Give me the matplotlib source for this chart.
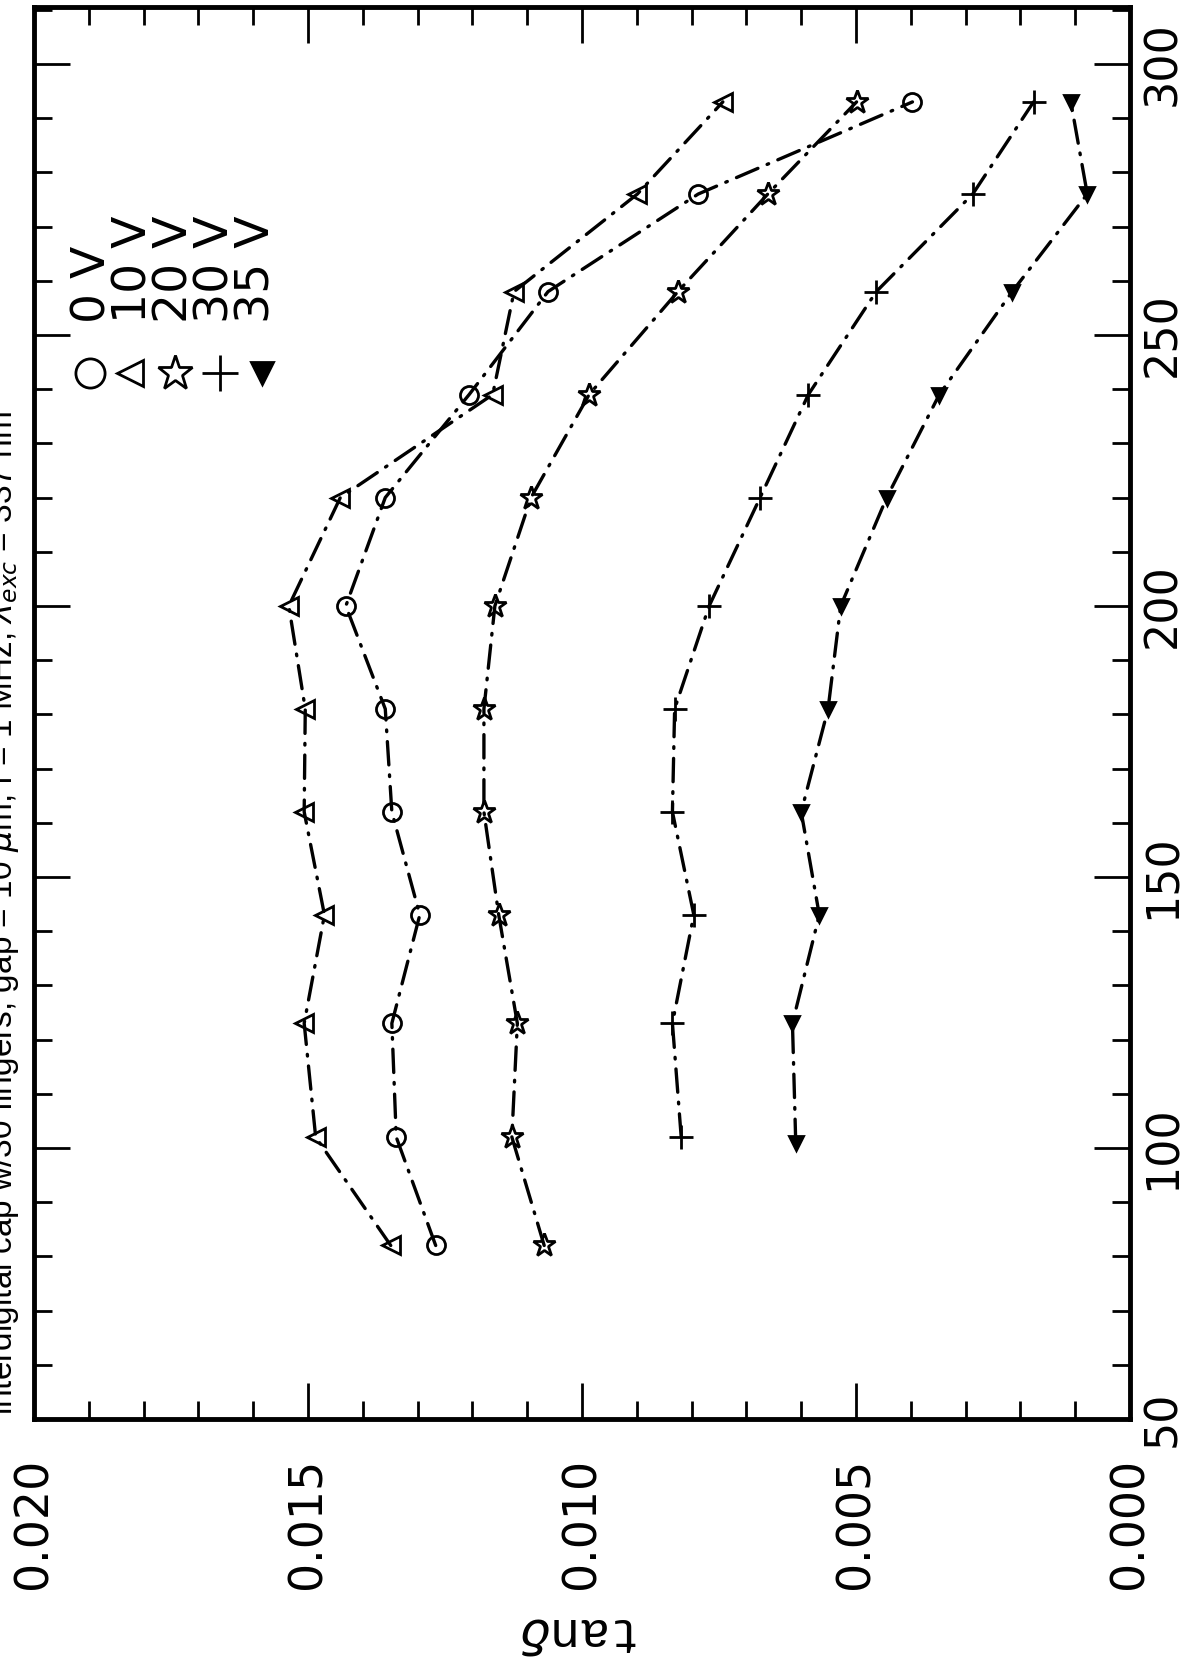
import matplotlib.pyplot as plt
from matplotlib.ticker import MultipleLocator, FormatStrFormatter

# temperatures (K) and tan(delta) for each bias voltage
temp_0v = [82, 102, 123, 143, 162, 181, 200, 220, 239, 258, 276, 293]
tan_0v = [0.01267, 0.01339, 0.01347, 0.01296, 0.01347, 0.01359, 0.01431, 0.01359, 0.01206, 0.01062, 0.00788, 0.00397]

temp_10v = [82, 102, 123, 143, 162, 181, 200, 220, 239, 258, 276, 293]
tan_10v = [0.01349, 0.01486, 0.01507, 0.01470, 0.01507, 0.01505, 0.01535, 0.01441, 0.01163, 0.01124, 0.00899, 0.00743]

temp_20v = [82, 102, 123, 143, 162, 181, 200, 220, 239, 258, 276, 293]
tan_20v = [0.01069, 0.01128, 0.01118, 0.01152, 0.01179, 0.01179, 0.01159, 0.01093, 0.00987, 0.00825, 0.00661, 0.00499]

temp_30v = [102, 123, 143, 162, 181, 200, 220, 239, 258, 276, 293]
tan_30v = [0.00819, 0.00835, 0.00796, 0.00835, 0.00831, 0.00768, 0.00675, 0.00587, 0.00463, 0.00287, 0.00176]

temp_35v = [101, 123, 143, 162, 181, 200, 220, 239, 258, 276, 293]
tan_35v = [0.00610, 0.00616, 0.00567, 0.00600, 0.00551, 0.00528, 0.00444, 0.00348, 0.00215, 0.00078, 0.00108]

labels = ['0 V', '10 V', '20 V', '30 V', '35 V']
title = r'interdigital cap w/30 fingers, gap = 10 $\mu$m, f = 1 MHz, $\lambda_{exc}$ = 337 nm'

fig = plt.figure(figsize=(11.89, 16.80), dpi=100)
ax = fig.add_axes([0.0286, 0.1554, 0.9218, 0.8404])

dashdot = (0, (7, 3, 0.5, 3))
series = [
    (tan_0v, temp_0v, 'o', 13, 'none'),
    (tan_10v, temp_10v, '<', 13, 'none'),
    (tan_20v, temp_20v, '*', 17, 'none'),
    (tan_30v, temp_30v, '+', 17, 'black'),
    (tan_35v, temp_35v, 'v', 10, 'black'),
]
for x, y, m, ms, fc in series:
    ax.plot(x, y, color='black', lw=2.4, linestyle=dashdot, dash_capstyle='round',
            marker=m, markersize=ms, markerfacecolor=fc, markeredgecolor='black',
            markeredgewidth=2)

ax.set_xlim(0.020, 0.0)
ax.set_ylim(50, 310.5)

ax.xaxis.set_major_locator(MultipleLocator(0.005))
ax.xaxis.set_minor_locator(MultipleLocator(0.001))
ax.xaxis.set_major_formatter(FormatStrFormatter('%.3f'))
ax.yaxis.set_major_locator(MultipleLocator(50))
ax.yaxis.set_minor_locator(MultipleLocator(10))

ax.tick_params(which='both', direction='in', top=True, bottom=True, left=True, right=True,
               labelleft=False, labelright=True, labelbottom=True, width=2)
ax.tick_params(which='major', length=26)
ax.tick_params(which='minor', length=13)
ax.tick_params(axis='x', which='major', pad=28)
ax.tick_params(axis='y', which='major', pad=8)

for lab in ax.get_xticklabels():
    lab.set_rotation(90)
    lab.set_fontsize(33)
    lab.set_va('top')
    lab.set_ha('center')
for lab in ax.get_yticklabels():
    lab.set_rotation(90)
    lab.set_fontsize(32)
    lab.set_family(['Liberation Sans Narrow', 'DejaVu Sans'])
    lab.set_va('center')
    lab.set_ha('left')

for s in ax.spines.values():
    s.set_linewidth(3.5)

# axis label, upside down like the rotated original
fig.text(581 / 1189, 1 - 1632 / 1680, r'tan$\delta$', rotation=180, fontsize=36,
         family='Liberation Mono', ha='center', va='center')

# title, partly cut at the left edge as in the scan
fig.text(0.0177, 0.158, title, rotation=90, fontsize=24, family='Liberation Sans',
         ha='right', va='bottom')

# legend, drawn in axes fraction
leg_x = [90, 130, 175, 220, 262]
leg_m = ['o', '<', '*', '+', 'v']
leg_ms = [21, 19, 26, 26, 16]
leg_fc = ['none', 'none', 'none', 'black', 'black']
for lx, m, ms, fc in zip(leg_x, leg_m, leg_ms, leg_fc):
    ax.plot([(lx - 34) / 1096], [1 - (373 - 7) / 1412], transform=ax.transAxes, marker=m,
            markersize=ms, markerfacecolor=fc, markeredgecolor='black', markeredgewidth=2,
            linestyle='none')
ax.text((70 - 34) / 1096, 1 - (323 - 7) / 1412, '\n'.join(labels), transform=ax.transAxes,
        rotation=90, fontsize=34, linespacing=0.89, multialignment='left',
        ha='left', va='bottom')

plt.savefig('out.png', dpi=100)
